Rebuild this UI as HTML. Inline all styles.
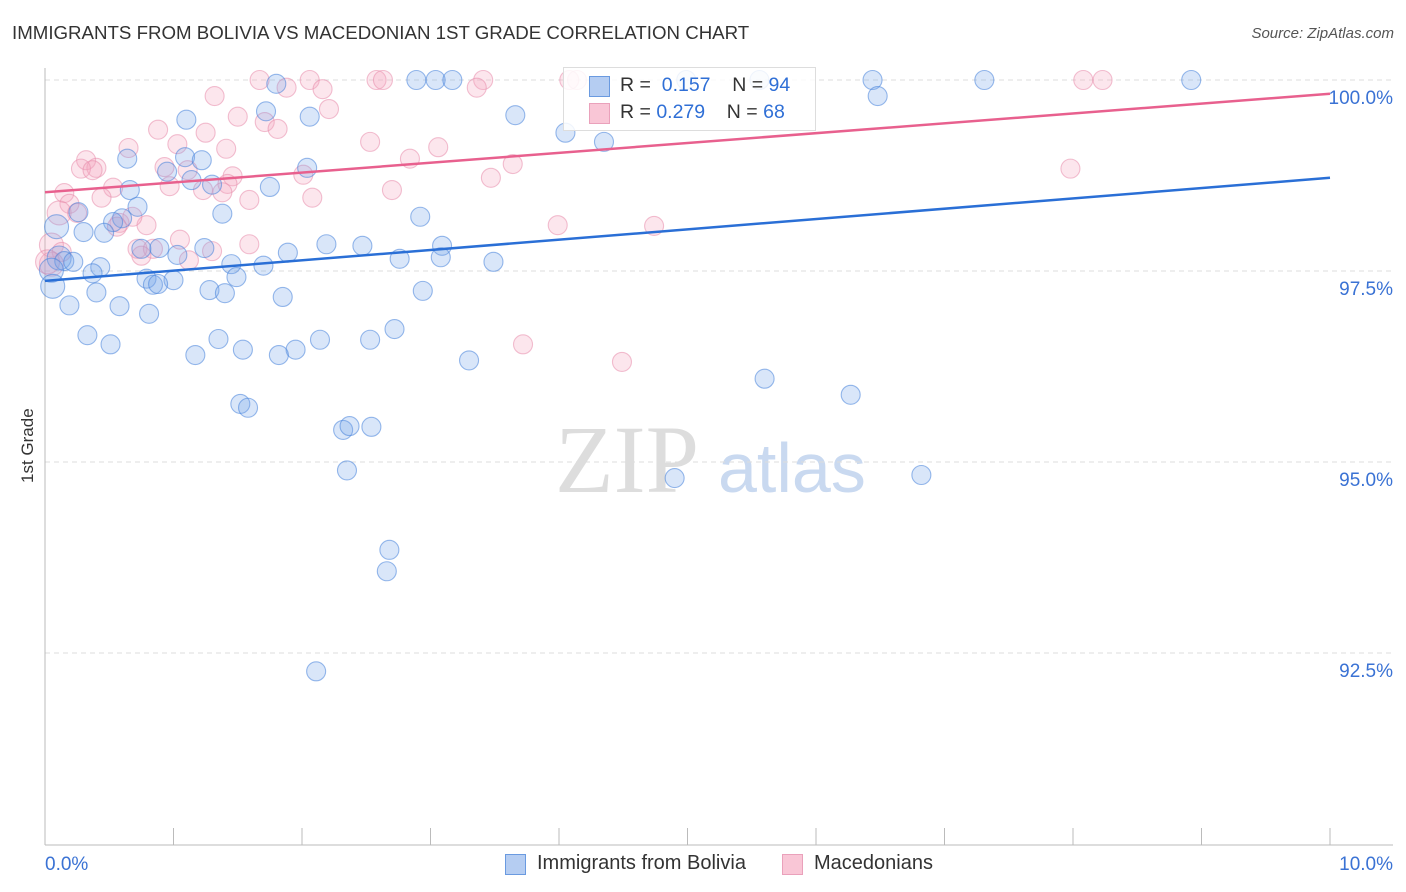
<!DOCTYPE html>
<html><head><meta charset="utf-8"><style>
body{margin:0;background:#fff;font-family:"Liberation Sans",sans-serif;}
#wrap{position:relative;width:1406px;height:892px;overflow:hidden;}
.t{position:absolute;white-space:nowrap;}
</style></head><body>
<div id="wrap">
<div class="t" style="left:12px;top:22px;font-size:18.7px;color:#333;">IMMIGRANTS FROM BOLIVIA VS MACEDONIAN 1ST GRADE CORRELATION CHART</div>
<div class="t" style="right:12px;top:25px;font-size:15px;color:#555;font-style:italic;">Source: ZipAtlas.com</div>
<div class="t" style="left:-2px;top:443px;font-size:17px;color:#333;transform:rotate(-90deg);transform-origin:center;width:60px;text-align:center;">1st Grade</div>
<svg id="svg" width="1406" height="892" style="position:absolute;left:0;top:0">
<text x="555" y="492" font-size="96" font-family="Liberation Serif,serif" fill="#ddd">ZIP</text>
<text x="718" y="492" font-size="70" font-family="Liberation Sans,sans-serif" fill="#c9d9f0">atlas</text>
</svg>
<div style="position:absolute;left:563px;top:67px;width:251px;height:62px;border:1px solid #ddd;background:rgba(255,255,255,0.85);">
 <div style="position:absolute;left:25px;top:8px;width:19px;height:19px;background:#b5cdf2;border:1px solid #6a9ae0;"></div>
 <div class="t" style="left:56px;top:6px;font-size:19.5px;color:#333;">R = <span style="color:#2f6fd6">&nbsp;0.157</span>&nbsp;&nbsp;&nbsp;&nbsp;N = <span style="color:#2f6fd6">94</span></div>
 <div style="position:absolute;left:25px;top:35px;width:19px;height:19px;background:#f9c6d6;border:1px solid #eaa1bb;"></div>
 <div class="t" style="left:56px;top:33px;font-size:19.5px;color:#333;">R = <span style="color:#2f6fd6">0.279</span>&nbsp;&nbsp;&nbsp;&nbsp;N = <span style="color:#2f6fd6">68</span></div>
</div>
<div style="position:absolute;left:505px;top:854px;">
 <div style="position:absolute;left:0;top:0;width:19px;height:19px;background:#b5cdf2;border:1px solid #6a9ae0;"></div>
 <div class="t" style="left:32px;top:-2px;font-size:20px;color:#333;">Immigrants from Bolivia</div>
</div>
<div style="position:absolute;left:782px;top:854px;">
 <div style="position:absolute;left:0;top:0;width:19px;height:19px;background:#f9c6d6;border:1px solid #eaa1bb;"></div>
 <div class="t" style="left:32px;top:-2px;font-size:20px;color:#333;">Macedonians</div>
</div>
</div>
<script>
const blueX=[1.80,2.89,3.04,3.17,4.99,5.56,6.44,7.31,8.92,6.48,3.66,4.05,4.35,1.10,1.72,2.06,0.64,1.09,1.22,2.04,0.95,1.14,1.30,1.75,0.66,0.72,0.26,1.38,2.92,0.60,0.53,0.09,0.30,0.46,0.75,0.89,1.24,2.19,2.47,3.09,1.89,1.03,3.08,2.76,3.49,0.11,0.15,0.22,0.43,1.45,1.70,0.37,0.05,0.79,1.00,1.49,0.84,0.88,0.06,0.40,1.28,1.40,2.94,1.85,0.19,0.58,0.81,2.72,0.33,1.35,2.14,2.53,0.51,1.54,1.95,1.17,1.82,3.30,5.60,6.27,1.52,1.58,2.32,2.37,2.54,2.35,4.90,6.82,2.68,2.66,2.11];
const blueY=[99.95,100,100,100,100,100,100,100,100,99.79,99.54,99.31,99.19,99.48,99.59,99.52,98.97,98.99,98.95,98.85,98.80,98.69,98.63,98.60,98.56,98.34,98.27,98.25,98.21,98.19,98.14,98.08,98.01,98.00,97.79,97.80,97.80,97.85,97.83,97.83,97.74,97.71,97.68,97.66,97.62,97.67,97.63,97.62,97.55,97.59,97.57,97.47,97.51,97.40,97.38,97.42,97.32,97.33,97.30,97.22,97.25,97.21,97.24,97.16,97.05,97.04,96.94,96.74,96.66,96.61,96.60,96.60,96.54,96.47,96.47,96.40,96.40,96.33,96.09,95.88,95.76,95.71,95.42,95.47,95.46,94.89,94.79,94.83,93.85,93.57,92.26];
const pinkX=[1.67,2.06,2.58,2.63,3.41,4.14,4.08,8.08,8.23,1.88,2.16,1.32,3.36,2.21,1.50,1.71,1.81,0.88,1.25,2.53,3.06,0.65,1.03,1.41,2.84,0.32,3.64,0.40,0.28,0.37,0.93,1.11,2.01,1.46,7.98,3.47,0.97,1.42,0.15,0.53,1.23,1.38,2.70,0.44,1.59,0.19,2.08,0.11,0.25,0.58,0.79,0.68,0.56,3.99,4.74,1.05,0.05,1.59,0.72,0.84,1.30,0.13,0.75,1.12,0.05,0.02,3.72,4.49];
const pinkY=[100,100,100,100,100,100,100,100,100,99.90,99.88,99.79,99.90,99.62,99.52,99.45,99.36,99.35,99.31,99.19,99.12,99.11,99.16,99.10,98.97,98.95,98.90,98.85,98.84,98.82,98.86,98.82,98.76,98.74,98.84,98.72,98.61,98.64,98.52,98.59,98.56,98.53,98.56,98.46,98.43,98.38,98.46,98.26,98.26,98.13,98.10,98.21,98.08,98.10,98.09,97.91,97.84,97.85,97.79,97.79,97.76,97.75,97.70,97.64,97.59,97.62,96.54,96.31];
const blueTrend=[97.37,98.72];
const pinkTrend=[98.53,99.82];
const yTicks=[100,97.5,95,92.5];
const yTickLabels=["100.0%","97.5%","95.0%","92.5%"];
const xTickLabels=["0.0%","10.0%"];
const X=v=>45+v*128.5, Y=v=>80+(100-v)*76.4;
const NS="http://www.w3.org/2000/svg", svg=document.getElementById('svg');
function mk(tag,attrs){const e=document.createElementNS(NS,tag);for(const k in attrs)e.setAttribute(k,attrs[k]);svg.appendChild(e);return e;}
yTicks.forEach((t,i)=>{
 const g=mk('line',{x1:45,x2:1393,y1:Y(t),y2:Y(t),stroke:'#ddd','stroke-dasharray':'5,4'});
 
 
 const l=mk('text',{x:1393,y:Y(t)+24,'text-anchor':'end','font-size':19,fill:'#3a72d4'});
 l.textContent=yTickLabels[i];
 
 
});
let a=mk('line',{x1:45,x2:45,y1:68,y2:845,stroke:'#bbb'});


a=mk('line',{x1:45,x2:1393,y1:845,y2:845,stroke:'#bbb'});


for(let k=1;k<=10;k++){const t=mk('line',{x1:X(k),x2:X(k),y1:828,y2:845,stroke:'#bbb'});
 
 }
[[0,'start',45],[10,'end',1393]].forEach((d,i)=>{const l=mk('text',{x:d[2],y:870,'text-anchor':d[1],'font-size':19,fill:'#3a72d4'});l.textContent=xTickLabels[i];
 
 });
function pts(xs,ys,fill,stroke,name){xs.forEach((x,i)=>{const big=x<0.12;
 const c=mk('circle',{cx:X(x),cy:Y(ys[i]),r:big?12:9.5,fill:fill,stroke:stroke,'stroke-width':1.1});
 
 });}
pts(pinkX,pinkY,'rgba(244,165,192,0.28)','rgba(232,140,172,0.55)','point-macedonians');
pts(blueX,blueY,'rgba(120,165,232,0.28)','rgba(70,130,218,0.55)','point-bolivia');
let tl=mk('line',{x1:X(0),x2:X(10),y1:Y(pinkTrend[0]),y2:Y(pinkTrend[1]),stroke:'#e8608e','stroke-width':2.5});


tl=mk('line',{x1:X(0),x2:X(10),y1:Y(blueTrend[0]),y2:Y(blueTrend[1]),stroke:'#2a6fd6','stroke-width':2.5});


</script>
</body></html>
